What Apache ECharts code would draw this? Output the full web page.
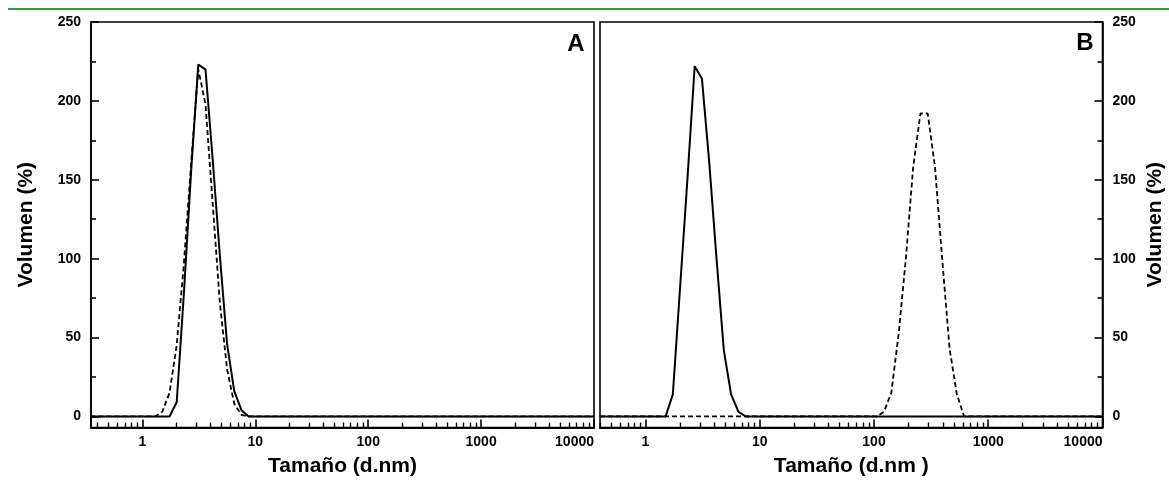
<!DOCTYPE html>
<html><head><meta charset="utf-8">
<script src="https://cdn.jsdelivr.net/npm/echarts@6/dist/echarts.min.js"></script>
<style>html,body{margin:0;padding:0;background:#fff}#c{width:1169px;height:484px}</style>
</head><body><div id="c"></div>
<script>
// ---- data (size in d.nm, volume in %) ----
const sizesA_solid = [0.345, 1.499, 1.736, 2.01, 2.328, 2.696, 3.122, 3.615, 4.187, 4.849, 5.615, 6.503, 7.531, 8.721, 10000];
const volA_solid   = [0,     0,     0,     9,    78,    155,   223,   220,   163,   102,   46,    16,    4,     0,     0];
const sizesA_dash  = [0.345, 1.294, 1.499, 1.736, 2.01, 2.328, 2.696, 3.122, 3.615, 4.187, 4.849, 5.615, 6.503, 7.531, 8.721, 10000];
const volA_dash    = [0,     0,     3,     15,    45,   97,    160,   220,   198,   135,   72,    30,    8,     1,     0,     0];
const sizesB_solid = [0.4, 1.499, 1.736, 2.01, 2.328, 2.696, 3.122, 3.615, 4.187, 4.849, 5.615, 6.503, 7.531, 10000];
const volB_solid   = [0,   0,     14,    82,   150,   222,   214,   161,   100,   42,    14,    3,     0,     0];
const sizesB_dash  = [0.4, 105.7, 122.4, 141.8, 164.2, 190.1, 220.2, 255, 295.3, 342, 396.1, 458.7, 531.2, 615.1, 10000];
const volB_dash    = [0,   0,     3,     15,    52,    100,   158,   192, 192,   158, 99,    43,    14,    0,     0];

const xMajorTicks = [1, 10, 100, 1000, 10000];
const xMinorTicks = [0.4,0.5,0.6,0.7,0.8,0.9, 2,3,4,5,6,7,8,9, 20,30,40,50,60,70,80,90,
                     200,300,400,500,600,700,800,900, 2000,3000,4000,5000,6000,7000,8000,9000];
const yMajorTicks = [0, 50, 100, 150, 200, 250];
const yMinorTicks = [25, 75, 125, 175, 225];
const panelLabels = ['A', 'B'];
const xTitles = ['Tamaño (d.nm)', 'Tamaño (d.nm )'];
const yTitle = 'Volumen (%)';

const FONT = "'Liberation Sans', Arial, sans-serif";
const pair = (xs, ys) => xs.map((x, i) => [x, ys[i]]);

const grids = [
  { left: 91, top: 22, width: 503, height: 405.5 },
  { left: 600, top: 22, width: 502.5, height: 405.5 }
];
const xMins = [0.35, 0.4];

const xAxes = [], yAxes = [];
[0, 1].forEach(g => {
  xAxes.push({
    gridIndex: g, type: 'log', logBase: 10, min: xMins[g], max: 10000, position: 'bottom',
    name: xTitles[g], nameLocation: 'middle', nameGap: 28,
    nameTextStyle: { fontFamily: FONT, fontWeight: 'bold', fontSize: 21, color: '#000' },
    axisLine: { show: true, onZero: false, lineStyle: { color: '#000', width: 2 } },
    axisTick: { show: true, inside: true, length: 8, customValues: xMajorTicks, lineStyle: { color: '#000', width: 1.6 } },
    axisLabel: { customValues: xMajorTicks, fontFamily: FONT, fontWeight: 'bold', fontSize: 14, color: '#000', margin: 8,
                 alignMaxLabel: 'right', formatter: v => String(Math.round(v)) },
    minorTick: { show: false }, splitLine: { show: false }
  });
  xAxes.push({
    gridIndex: g, type: 'log', logBase: 10, min: xMins[g], max: 10000, position: 'bottom',
    axisLine: { show: false, onZero: false },
    axisTick: { show: true, inside: true, length: 5, customValues: xMinorTicks, lineStyle: { color: '#000', width: 1.4 } },
    axisLabel: { show: false }, splitLine: { show: false }
  });
  const pos = g === 0 ? 'left' : 'right';
  yAxes.push({
    gridIndex: g, type: 'value', min: -7, max: 250, position: pos,
    name: yTitle, nameLocation: 'middle', nameGap: g === 0 ? 54 : 42,
    nameTextStyle: { fontFamily: FONT, fontWeight: 'bold', fontSize: 21, color: '#000' },
    axisLine: { show: true, onZero: false, lineStyle: { color: '#000', width: 1.6 } },
    axisTick: { show: true, inside: true, length: 8, customValues: yMajorTicks, lineStyle: { color: '#000', width: 1.6 } },
    axisLabel: { customValues: yMajorTicks, fontFamily: FONT, fontWeight: 'bold', fontSize: 14, color: '#000', margin: 10 },
    splitLine: { show: false }
  });
  yAxes.push({
    gridIndex: g, type: 'value', min: -7, max: 250, position: pos,
    axisLine: { show: false, onZero: false },
    axisTick: { show: true, inside: true, length: 5, customValues: yMinorTicks, lineStyle: { color: '#000', width: 1.6 } },
    axisLabel: { show: false }, splitLine: { show: false }
  });
});

const solidStyle = { color: '#000', width: 2 };
const dashStyle = { color: '#000', width: 1.8, type: [5, 3] };
const mk = (g, data, style, z) => ({
  type: 'line', xAxisIndex: g * 2, yAxisIndex: g * 2, data, showSymbol: false, symbol: 'none',
  lineStyle: style, z, animation: false, clip: true
});

const option = {
  animation: false,
  backgroundColor: '#fff',
  grid: grids.map(r => Object.assign({ show: true, borderColor: '#000', borderWidth: 1.6, backgroundColor: 'transparent' }, r)),
  xAxis: xAxes,
  yAxis: yAxes,
  series: [
    mk(0, pair(sizesA_dash, volA_dash), dashStyle, 2),
    mk(0, pair(sizesA_solid, volA_solid), solidStyle, 3),
    mk(1, pair(sizesB_dash, volB_dash), dashStyle, 2),
    mk(1, pair(sizesB_solid, volB_solid), solidStyle, 3)
  ],
  graphic: [
    { type: 'line', shape: { x1: 8, y1: 9, x2: 1169, y2: 9 }, style: { stroke: '#339c33', lineWidth: 2 } },
    { type: 'text', x: 576, y: 44, style: { text: panelLabels[0], font: "bold 24px " + FONT, fill: '#000', textAlign: 'center', textVerticalAlign: 'middle' } },
    { type: 'text', x: 1085, y: 43, style: { text: panelLabels[1], font: "bold 24px " + FONT, fill: '#000', textAlign: 'center', textVerticalAlign: 'middle' } }
  ]
};
const chart = echarts.init(document.getElementById('c'), null, { renderer: 'canvas' });
chart.setOption(option);
</script></body></html>
